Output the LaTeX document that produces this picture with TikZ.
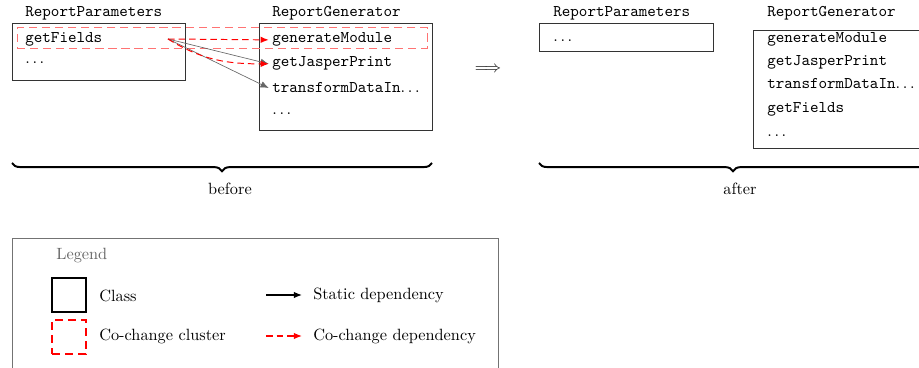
\documentclass[tikz,border=0pt]{standalone}
\usepackage{amsmath}
\usepackage{amssymb}
\usepackage{tikz}
\usetikzlibrary{arrows.meta,decorations.pathreplacing}
\newcommand*{\etc}{\ensuremath{\ldots}}

\begin{document}
\begin{tikzpicture}[x=0.6135pt, y=-0.6135pt,
    classbox/.style={draw=black!80, thin, inner sep=0pt},
    cluster/.style={draw=red!55, dash pattern=on 5pt off 3pt, semithick, inner sep=0pt},
    statdep/.style={draw=black!60, -{Latex[length=5pt,width=4pt]}},
    codep/.style={draw=red, dash pattern=on 4pt off 2.5pt, semithick,
      -{Latex[length=5pt,width=4pt]}},
    bracedeco/.style={decorate, very thick,
      decoration={brace, mirror, amplitude=5pt}}]
  \useasboundingbox (0,0) rectangle (919,368);

  % class boxes
  \node[classbox, minimum width=106pt, minimum height=35pt] (rpB) at (98.5,51.5) {};
  \node[classbox, minimum width=106pt, minimum height=65.6pt] (rgB) at (345.5,76.5) {};
  \node[classbox, minimum width=106.7pt, minimum height=17.2pt] (rpA) at (626,37) {};
  \node[classbox, minimum width=106pt, minimum height=72.4pt] (rgA) at (839.5,89) {};
  \node[cluster, minimum width=252pt, minimum height=12.3pt] (clB) at (222.5,38) {};

  {\tikzstyle{every node}=[anchor=base west, font=\ttfamily, inner sep=2pt]
    % before
    \node (rpBt) at (21.7,17) {ReportParameters};
    \node (gfB) at (21.7,43) {getFields};
    \node (rpBd) at (21.7,64) {\etc};
    \node (rgBt) at (268.7,17) {ReportGenerator};
    \node (genB) at (268.7,43) {generateModule};
    \node (jasB) at (268.7,67) {getJasperPrint};
    \node (trB) at (268.7,93) {transformDataIn\etc};
    \node (rgBd) at (268.7,115) {\etc};
    % after
    \node (rpAt) at (549.7,17) {ReportParameters};
    \node (rpAd) at (549.7,41.5) {\etc};
    \node (rgAt) at (763.7,17) {ReportGenerator};
    \node (genA) at (763.7,43) {generateModule};
    \node (jasA) at (763.7,66) {getJasperPrint};
    \node (trA) at (763.7,89) {transformDataIn\etc};
    \node (gfA) at (763.7,113) {getFields};
    \node (rgAd) at (763.7,137) {\etc};
  }

  % dependencies
  \coordinate (gfout) at (168,39);
  \draw[codep] (gfout) -- (genB.west);
  \draw[statdep] (gfout) -- (jasB.west);
  \draw[statdep] (gfout) -- (trB.west);
  \draw[codep] (gfout) to[out=-32, in=180] (jasB.west);

  \node (impl) at (488,70) {$\Longrightarrow$};

  % braces
  \coordinate (brB1) at (12,163);
  \coordinate (brB2) at (432,163);
  \coordinate (brA1) at (539,163);
  \coordinate (brA2) at (927,163);
  \draw[bracedeco] (brB1) -- (brB2);
  \draw[bracedeco] (brA1) -- (brA2);
  \node (before) at (230,189) {before};
  \node (after) at (740,189) {after};

  % legend
  \draw[black!55, semithick] (12,238) rectangle (498,390);
  \node[anchor=west, text=black!60, inner sep=0pt] (lgT) at (56,256) {Legend};
  \node[classbox, thick, draw=black, minimum size=20.9pt] (lgClass) at (69,295) {};
  \node[cluster, thick, draw=red, minimum size=20.9pt] (lgClu) at (69,337) {};
  \node[anchor=west, inner sep=0pt] (lgClassT) at (99,296) {Class};
  \node[anchor=west, inner sep=0pt] (lgCluT) at (99,336) {Co-change cluster};
  \coordinate (lgS1) at (266,295);
  \coordinate (lgS2) at (302,295);
  \coordinate (lgC1) at (266,336);
  \coordinate (lgC2) at (302,336);
  \draw[statdep, draw=black, thick] (lgS1) -- (lgS2);
  \draw[codep, thick] (lgC1) -- (lgC2);
  \node[anchor=west, inner sep=0pt] (lgST) at (313,295) {Static dependency};
  \node[anchor=west, inner sep=0pt] (lgCT) at (313,336) {Co-change dependency};
\end{tikzpicture}
\end{document}
